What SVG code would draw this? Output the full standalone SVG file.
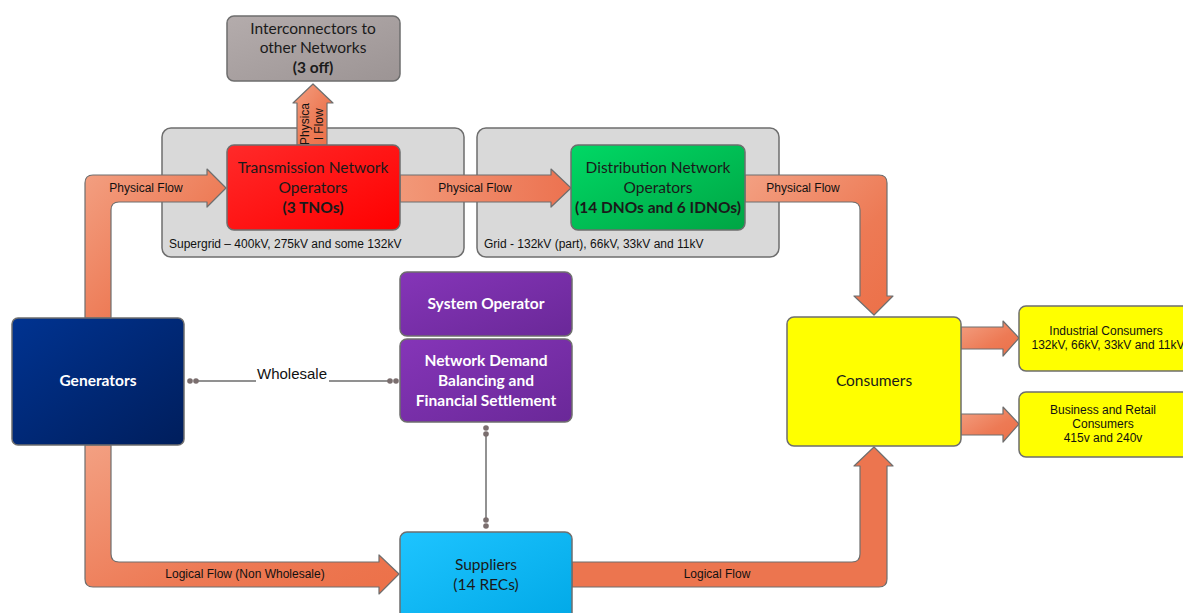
<svg xmlns="http://www.w3.org/2000/svg" width="1183" height="613" viewBox="0 0 1183 613">
<defs>
<linearGradient id="gArrow" x1="0" y1="0" x2="1" y2="1"><stop offset="0" stop-color="#f3a082"/><stop offset="0.6" stop-color="#ed7a55"/><stop offset="1" stop-color="#ec7048"/></linearGradient>
<linearGradient id="gArrowH" x1="0" y1="0" x2="1" y2="0"><stop offset="0" stop-color="#f29878"/><stop offset="1" stop-color="#ec7250"/></linearGradient>
<linearGradient id="gGray" x1="0" y1="0" x2="1" y2="1"><stop offset="0" stop-color="#b4acac"/><stop offset="1" stop-color="#9c9494"/></linearGradient>
<linearGradient id="gRed" x1="0" y1="0" x2="1" y2="1"><stop offset="0" stop-color="#ff2a2a"/><stop offset="1" stop-color="#ff0000"/></linearGradient>
<linearGradient id="gGreen" x1="0" y1="0" x2="1" y2="1"><stop offset="0" stop-color="#00d865"/><stop offset="1" stop-color="#00a544"/></linearGradient>
<linearGradient id="gNavy" x1="0" y1="0" x2="1" y2="1"><stop offset="0" stop-color="#003391"/><stop offset="1" stop-color="#001e5c"/></linearGradient>
<linearGradient id="gPurple" x1="0" y1="0" x2="1" y2="1"><stop offset="0" stop-color="#8535b8"/><stop offset="1" stop-color="#6a2898"/></linearGradient>
<linearGradient id="gCyan" x1="0" y1="0" x2="1" y2="1"><stop offset="0" stop-color="#1ec4ff"/><stop offset="1" stop-color="#00a8e6"/></linearGradient>
<style>
.box{stroke:#6e6e6e;stroke-width:1.5}
.arrow{stroke:#6e6e6e;stroke-width:1.2;stroke-linejoin:round}
.cal{font-family:Lato,"Open Sans",sans-serif;font-size:15.5px;text-anchor:middle}
.w{fill:#ffffff;font-weight:bold}
.k{fill:#1a1a1a}
.lbl{font-family:"Liberation Sans",Arial,sans-serif;font-size:12px;fill:#111}
.mid{text-anchor:middle}
.line{stroke:#6e6e6e;stroke-width:1.5;fill:none}
.dot{fill:#7a6e6e}
</style>
</defs>
<rect width="1183" height="613" fill="#ffffff"/>

<g id="supergrid">
<rect class="box" x="162" y="128" width="302" height="129" rx="9" fill="#d9d9d9"/>
<text class="lbl" x="169" y="248">Supergrid – 400kV, 275kV and some 132kV</text>
</g>
<g id="grid">
<rect class="box" x="477" y="128" width="302" height="129" rx="9" fill="#d9d9d9"/>
<text class="lbl" x="484" y="248">Grid - 132kV (part), 66kV, 33kV and 11kV</text>
</g>

<g id="connectors">
<path class="arrow" fill="url(#gArrow)" d="M85 318 L85 183 Q85 175 93 175 L207 175 L207 169 L226 188 L207 207 L207 202 L119 202 Q111 202 111 210 L111 318 Z"/>
<text class="lbl mid" x="146" y="192">Physical Flow</text>
<path class="arrow" fill="url(#gArrow)" d="M297 145 L297 103 L293 103 L313 84 L333 103 L327 103 L327 145 Z"/>
<text class="lbl mid" transform="translate(309 124) rotate(-90)">Physica</text>
<text class="lbl mid" transform="translate(323 124) rotate(-90)">l Flow</text>
<path class="arrow" fill="url(#gArrowH)" d="M400 175 L551 175 L551 169 L571 188 L551 207 L551 202 L400 202 Z"/>
<text class="lbl mid" x="475" y="192">Physical Flow</text>
<path class="arrow" fill="url(#gArrow)" d="M745 175 L879 175 Q887 175 887 183 L887 296 L893 296 L874 315 L854 296 L860 296 L860 210 Q860 202 852 202 L745 202 Z"/>
<text class="lbl mid" x="803" y="192">Physical Flow</text>
<path class="arrow" fill="url(#gArrow)" d="M85 445 L85 579 Q85 587 93 587 L379 587 L379 594 L399 574 L379 555 L379 562 L119 562 Q111 562 111 554 L111 445 Z"/>
<text class="lbl mid" x="245" y="578">Logical Flow (Non Wholesale)</text>
<path class="arrow" fill="#ec754f" d="M572 562 L852 562 Q860 562 860 554 L860 466 L854 466 L874 447 L893 466 L887 466 L887 579 Q887 587 879 587 L572 587 Z"/>
<text class="lbl mid" x="717" y="578">Logical Flow</text>
<path class="arrow" fill="url(#gArrow)" d="M961 327 L1003 327 L1003 321 L1019 338 L1003 356 L1003 349 L961 349 Z"/>
<path class="arrow" fill="url(#gArrow)" d="M961 414 L1003 414 L1003 407 L1019 424 L1003 442 L1003 435 L961 435 Z"/>
<path class="line" d="M196 381 L256 381 M329 381 L390 381"/>
<circle class="dot" cx="190" cy="381" r="2.8"/><circle class="dot" cx="196" cy="381" r="2.8"/>
<circle class="dot" cx="390" cy="381" r="2.8"/><circle class="dot" cx="396" cy="381" r="2.8"/>
<text x="292" y="379" font-family="Liberation Sans, Arial, sans-serif" font-size="15" fill="#111" text-anchor="middle">Wholesale</text>
<path class="line" d="M486 434 L486 520"/>
<circle class="dot" cx="486" cy="428" r="2.8"/><circle class="dot" cx="486" cy="434" r="2.8"/>
<circle class="dot" cx="486" cy="520" r="2.8"/><circle class="dot" cx="486" cy="526" r="2.8"/>
</g>

<g id="interconnectors">
<rect class="box" x="227" y="16" width="173" height="65" rx="7" fill="url(#gGray)"/>
<text class="cal k" x="313" y="34" font-size="15">Interconnectors to</text>
<text class="cal k" x="313" y="53" font-size="15">other Networks</text>
<text class="cal k" x="313" y="73" font-size="15" font-weight="bold">(3 off)</text>
</g>
<g id="tno">
<rect class="box" x="227" y="145" width="173" height="85" rx="7" fill="url(#gRed)"/>
<text class="cal k" x="313" y="173">Transmission Network</text>
<text class="cal k" x="313" y="193">Operators</text>
<text class="cal k" x="313" y="213" font-weight="bold">(3 TNOs)</text>
</g>
<g id="dno">
<rect class="box" x="571" y="145" width="174" height="85" rx="7" fill="url(#gGreen)"/>
<text class="cal k" x="658" y="173">Distribution Network</text>
<text class="cal k" x="658" y="193">Operators</text>
<text class="cal k" x="658" y="213" font-weight="bold">(14 DNOs and 6 IDNOs)</text>
</g>
<g id="generators">
<rect class="box" x="12" y="318" width="172" height="127" rx="6" fill="url(#gNavy)"/>
<text class="cal w" x="98" y="386">Generators</text>
</g>
<g id="system-operator">
<rect class="box" x="400" y="272" width="172" height="64" rx="7" fill="url(#gPurple)"/>
<text class="cal w" x="486" y="309">System Operator</text>
</g>
<g id="ndb">
<rect class="box" x="400" y="339" width="172" height="83" rx="7" fill="url(#gPurple)"/>
<text class="cal w" x="486" y="366">Network Demand</text>
<text class="cal w" x="486" y="386">Balancing and</text>
<text class="cal w" x="486" y="406">Financial Settlement</text>
</g>
<g id="suppliers">
<rect class="box" x="400" y="532" width="172" height="95" rx="7" fill="url(#gCyan)"/>
<text class="cal k" x="486" y="570">Suppliers</text>
<text class="cal k" x="486" y="590">(14 RECs)</text>
</g>
<g id="consumers">
<rect class="box" x="787" y="317" width="174" height="129" rx="7" fill="#ffff00"/>
<text class="cal k" x="874" y="386">Consumers</text>
</g>
<g id="industrial">
<rect class="box" x="1019" y="306" width="180" height="65" rx="7" fill="#ffff00"/>
<text class="lbl mid" x="1106" y="335" font-size="12.3">Industrial Consumers</text>
<text class="lbl mid" x="1108" y="349" font-size="12.3">132kV, 66kV, 33kV and 11kV</text>
</g>
<g id="business">
<rect class="box" x="1019" y="392" width="180" height="65" rx="7" fill="#ffff00"/>
<text class="lbl mid" x="1103" y="414" font-size="12.3">Business and Retail</text>
<text class="lbl mid" x="1103" y="428" font-size="12.3">Consumers</text>
<text class="lbl mid" x="1103" y="442" font-size="12.3">415v and 240v</text>
</g>
</svg>
